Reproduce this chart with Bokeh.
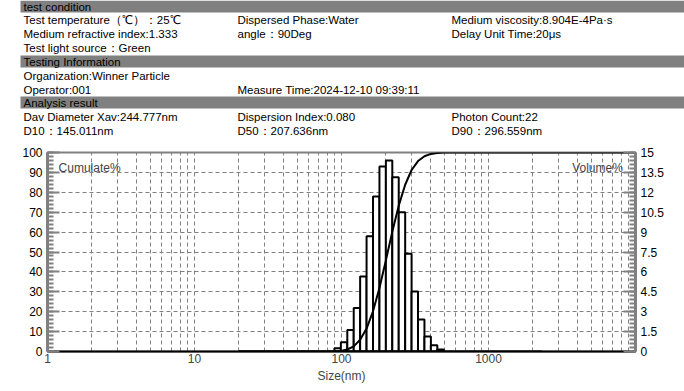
from bokeh.plotting import figure
from bokeh.models import Range1d, LinearAxis, FixedTicker, Label, CustomJSTickFormatter
from bokeh.layouts import column
from bokeh.embed import file_html
from bokeh.resources import INLINE
from bokeh.core.properties import value

FONT = "Liberation Sans"
GRAY = "#808080"

# ---------------- data ----------------
section_titles = ["test condition", "Testing Information", "Analysis result"]
condition_rows = [
    ["Test temperature（℃）：25℃", "Dispersed Phase:Water", "Medium viscosity:8.904E-4Pa·s"],
    ["Medium refractive index:1.333", "angle：90Deg", "Delay Unit Time:20μs"],
    ["Test light source：Green", "", ""],
]
info_rows = [
    ["Organization:Winner Particle", "", ""],
    ["Operator:001", "Measure Time:2024-12-10 09:39:11", ""],
]
result_rows = [
    ["Dav Diameter Xav:244.777nm", "Dispersion Index:0.080", "Photon Count:22"],
    ["D10：145.011nm", "D50：207.636nm", "D90：296.559nm"],
]

bin_edges = [89.5, 99.0, 109.5, 121.1, 133.9, 148.1, 163.8, 181.2, 200.4, 221.6,
             245.1, 271.1, 299.8, 331.6, 366.7, 405.6, 448.6, 496.1]
volume_pct = [0.25, 0.70, 1.63, 3.27, 5.65, 8.69, 11.68, 13.94, 14.39, 13.14,
              10.50, 7.36, 4.52, 2.41, 1.13, 0.48, 0.15]

cum_size = [20, 85, 92, 99.0, 109.5, 121.1, 133.9, 148.1, 163.8, 181.2, 200.4,
            221.6, 245.1, 271.1, 299.8, 331.6, 366.7, 405.6, 448.6, 496.1, 10000]
cum_pct = [0, 0, 0.08, 0.3, 1.0, 2.6, 5.9, 11.5, 20.2, 31.9, 45.8,
           60.2, 73.3, 83.8, 91.2, 95.7, 98.1, 99.3, 99.7, 100, 100]

size_range = [20, 2300]

x_ticks = [1, 10, 100, 1000]
left_ticks = [0, 10, 20, 30, 40, 50, 60, 70, 80, 90, 100]
right_ticks = [0, 1.5, 3, 4.5, 6, 7.5, 9, 10.5, 12, 13.5, 15]

# ---------------- header ----------------
W = 684
HH = 145
hp = figure(width=W, height=HH, x_range=Range1d(0, W), y_range=Range1d(HH, 0),
            output_backend="svg", toolbar_location=None, min_border=0,
            x_axis_location=None, y_axis_location=None, outline_line_color=None)
hp.grid.visible = False
hp.frame_align = False

band_centers = [6, 61, 102]
hp.quad(left=20, right=W, top=[c - 6 for c in band_centers],
        bottom=[c + 6 for c in band_centers], fill_color=GRAY, line_color=None)

col_x = [23, 237, 451]
row_groups = [
    (condition_rows, [19, 33, 47]),
    (info_rows, [75, 89]),
    (result_rows, [116.5, 130]),
]
xs, ys, ts = [], [], []
for title, c in zip(section_titles, band_centers):
    xs.append(23); ys.append(c); ts.append(title)
for rows, yrow in row_groups:
    for row, yy in zip(rows, yrow):
        for txt, xx in zip(row, col_x):
            if txt:
                xs.append(xx); ys.append(yy); ts.append(txt)
hp.text(x=xs, y=ys, text=ts, text_font=value(FONT), text_font_size="11.5px",
        text_baseline="middle", text_color="black")

# ---------------- chart ----------------
p = figure(width=W, height=240, x_axis_type="log",
           x_range=Range1d(1, 10000), y_range=Range1d(0, 100),
           output_backend="svg", toolbar_location=None,
           min_border_left=47, min_border_right=49, min_border_top=7, min_border_bottom=33,
           outline_line_color=GRAY, outline_line_width=2)
p.frame_align = False
p.extra_y_ranges = {"vol": Range1d(0, 15)}

p.xgrid.ticker = FixedTicker(ticks=[m * 10 ** e for e in range(4) for m in range(1, 10)
                                    if m * 10 ** e > 1])
p.ygrid.ticker = FixedTicker(ticks=left_ticks[1:-1])
p.grid.grid_line_color = GRAY
p.grid.grid_line_dash = "4 3"
p.grid.grid_line_width = 1

p.quad(left=bin_edges[:-1], right=bin_edges[1:], bottom=0, top=volume_pct,
       y_range_name="vol", fill_color="white", line_color="black", line_width=2)
p.line(size_range, [0, 0], y_range_name="vol", line_color="black", line_width=2)
p.line(cum_size, cum_pct, line_color="black", line_width=2)

fmt = CustomJSTickFormatter(code="return String(tick);")

# bottom axis
xa = p.xaxis[0]
xa.ticker = FixedTicker(ticks=x_ticks, minor_ticks=[])
xa.formatter = fmt
xa.axis_line_color = "black"
xa.axis_line_width = 2
xa.major_tick_in = 0
xa.major_tick_out = 0
xa.minor_tick_in = 0
xa.minor_tick_out = 0
xa.major_label_standoff = 2
xa.axis_label = "Size(nm)"
xa.axis_label_standoff = 3
xa.axis_label_text_font_style = "normal"
xa.axis_label_text_font = FONT
xa.axis_label_text_font_size = "12px"
xa.major_label_text_font = FONT
xa.major_label_text_font_size = "12px"


def style_y(ax):
    ax.axis_line_color = GRAY
    ax.axis_line_width = 3
    ax.major_tick_line_color = GRAY
    ax.major_tick_line_width = 2
    ax.minor_tick_line_color = GRAY
    ax.minor_tick_line_width = 2
    ax.major_tick_in = 12
    ax.major_tick_out = 0
    ax.minor_tick_in = 6
    ax.minor_tick_out = 0
    ax.major_label_standoff = 5
    ax.major_label_text_font = FONT
    ax.major_label_text_font_size = "12px"
    ax.major_label_text_color = "black"


ya = p.yaxis[0]
ya.ticker = FixedTicker(ticks=left_ticks, minor_ticks=list(range(0, 101, 2)))
ya.formatter = fmt
style_y(ya)

ra = LinearAxis(y_range_name="vol",
                ticker=FixedTicker(ticks=right_ticks,
                                   minor_ticks=[round(i * 0.3, 1) for i in range(51)]),
                formatter=fmt)
style_y(ra)
p.add_layout(ra, "right")

p.add_layout(Label(x=1.19, y=92, text="Cumulate%", text_font=FONT, text_font_size="12px",
                   text_baseline="middle", text_align="left"))
p.add_layout(Label(x=8200, y=92, text="Volume%", text_font=FONT, text_font_size="12px",
                   text_baseline="middle", text_align="right"))

layout = column(hp, p)
open("out.html", "w").write(file_html(layout, INLINE))
